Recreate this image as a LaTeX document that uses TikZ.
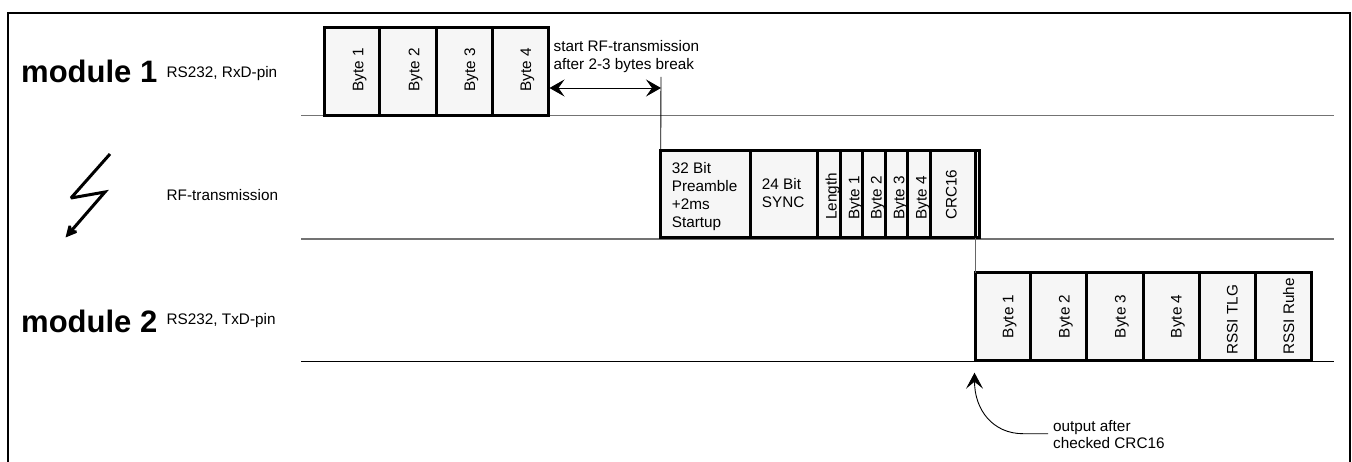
\documentclass[tikz,border=0pt]{standalone}
\usepackage{fontspec}
\setmainfont{Liberation Sans}
\usetikzlibrary{positioning, arrows.meta}

\begin{document}
\begin{tikzpicture}[
        x=1pt, y=-1pt,
        % Style for the data fields
        field/.style={
            rectangle, draw=black, line width=3pt, fill=black!3.5,
            inner sep=0pt, outer sep=0pt, anchor=south west, minimum height=87.5pt
        },
        % Vertical text in a field
        vertText/.style={rotate=90, anchor=base west, inner sep=0pt, font=\fontsize{15.3}{18}\selectfont},
        label/.style={inner sep=0pt, anchor=base west, align=left, font=\fontsize{15.3}{18}\selectfont},
        title/.style={inner sep=0pt, anchor=base west, font=\fontsize{31}{36}\selectfont\bfseries},
        baseLine/.style={draw=black!55, line width=1.6pt},
        thinLine/.style={draw=black, line width=0.9pt},
        bigHead/.style={-{Stealth[length=16pt,width=17pt,inset=7pt]}}
    ]
        \useasboundingbox (0,0) rectangle (1352,462);

        % --- Frame ---
        \draw [line width=1.7pt] (8,470) |- (1350,13) -- (1350,470);

        % --- Time lines ---
        \coordinate (line1a) at (301,115.7);
        \coordinate (line1b) at (1334,115.7);
        \coordinate (line2a) at (301,239);
        \coordinate (line2b) at (1334,239);
        \coordinate (line3a) at (301,361.5);
        \coordinate (line3b) at (1334,361.5);
        \path [baseLine] (line1a) -- (line1b);
        \path [baseLine, line width=1.2pt] (line2a) -- (line2b);
        \path [thinLine] (line3a) -- (line3b);

        % --- Labels on the left ---
        \node [title] (mod1) at (21,83) {module 1};
        \node [title] (mod2) at (21,332) {module 2};
        \node [label] (rxd) at (166.5,78) {RS232, RxD-pin};
        \node [label] (rf) at (166.5,201) {RF-transmission};
        \node [label] (txd) at (166.5,324) {RS232, TxD-pin};

        % --- Lightning ---
        \coordinate (bolt1) at (110,154);
        \coordinate (bolt2) at (71,198);
        \coordinate (bolt3) at (105,192);
        \coordinate (bolt4) at (65.5,237.5);
        \draw [line width=3pt, miter limit=3, -{Stealth[length=15pt,width=15pt,inset=5pt]}] (bolt1) -- (bolt2) -- (bolt3) -- (bolt4);

        % --- Bytes of module 1 ---
        \foreach \x/\w/\tx/\txt [count=\i] in {324/55.5/363.3/Byte 1, 379.5/56.5/419.3/Byte 2, 436/56/475/Byte 3, 492/56/531/Byte 4} {
            \node [field, minimum width=\w pt] (a\i) at (\x,115.2) {};
            \node [vertText] at (\tx,92) {\txt};
        }

        % --- RF telegram ---
        \node [field, minimum width=89.3pt] (pre) at (660.7,237.7) {};
        \node [label] (pretext) at (671.7,228) {32 Bit\\[0.3pt]Preamble\\[0.3pt]+2ms\\[0.3pt]Startup};
        \node [field, minimum width=67pt] (sync) at (750,237.7) {};
        \node [label] (synctext) at (761.7,207.3) {24 Bit\\[-0.5pt]SYNC};
        \foreach \x/\w/\tx/\txt [count=\i] in {817/23/836.7/Length, 840/22.7/859.3/Byte 1, 862.7/22.3/881.7/Byte 2, 885/22/904.3/Byte 3, 907/23/926.7/Byte 4, 930/45/956.7/CRC16} {
            \node [field, minimum width=\w pt] (b\i) at (\x,237.7) {};
            \node [vertText] at (\tx,220) {\txt};
        }
        \node [field, minimum width=4.3pt] (tail) at (975,237.7) {};

        % --- Bytes of module 2 ---
        \foreach \x/\w/\tx/\by/\txt [count=\i] in {975/55.7/1013.3/338.3/Byte 1, 1030.7/56/1069.7/338.3/Byte 2, 1086.7/56.3/1125.7/338.3/Byte 3, 1143/56/1181.7/338.3/Byte 4, 1199/56/1237.7/355/RSSI TLG, 1255/56/1294/355/RSSI Ruhe} {
            \node [field, minimum width=\w pt] (c\i) at (\x,360.5) {};
            \node [vertText] at (\tx,\by) {\txt};
        }

        % --- Annotations ---
        \node [label] (start) at (553.5,70) {start RF-transmission\\after 2-3 bytes break};
        \coordinate (mark) at (661,77);
        \coordinate (tipL) at (549.5,88);
        \coordinate (tipR) at (661,88);
        \path [thinLine] (mark) -- (pre.north west);
        \path [thinLine, {Stealth[length=15pt,width=17pt,inset=6pt]}-{Stealth[length=15pt,width=17pt,inset=6pt]}] (tipL) -- (tipR);
        \path [thinLine, draw=black!60] (tail.south west) -- (c1.north west);

        \node [label] (out) at (1053,448) {output after\\[-1pt]checked CRC16};
        \coordinate (outStart) at (1048,433.7);
        \coordinate (outTip) at (974.5,372.7);
        \path [thinLine, bigHead] (outStart) -- (1023,433.7) .. controls (993,433.7) and (974.5,410) .. (outTip);
    \end{tikzpicture}
\end{document}
